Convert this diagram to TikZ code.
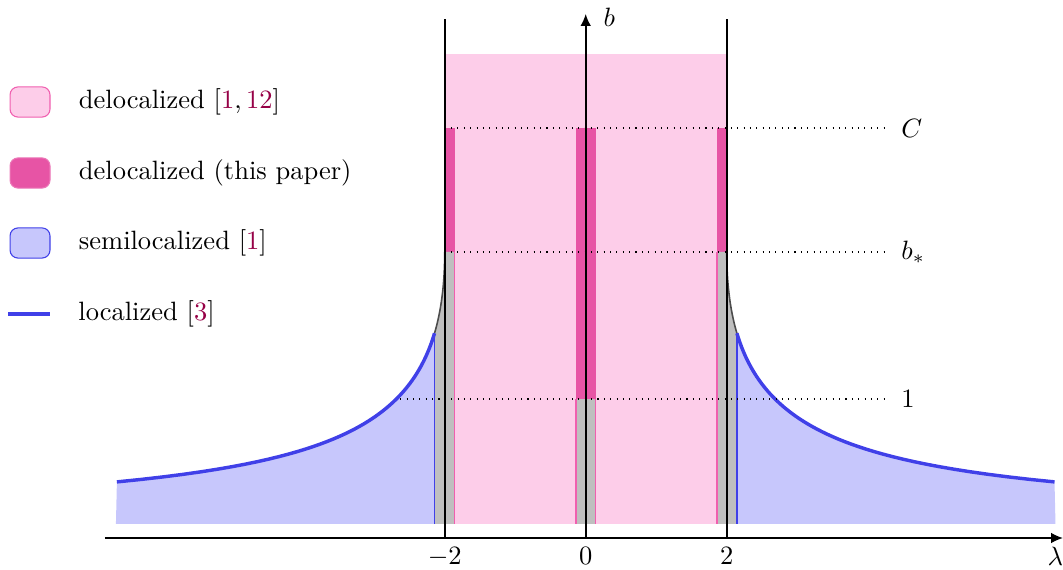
\documentclass[tikz,border=0pt]{standalone}
\usepackage{amsmath,amssymb}
\usepackage{tikz}
\usetikzlibrary{arrows.meta,positioning}
\usepackage{xcolor}
\definecolor{deloc}{RGB}{253,205,233}
\definecolor{delocnew}{RGB}{231,84,165}
\definecolor{delocedge}{RGB}{240,95,175}
\definecolor{semiloc}{RGB}{199,199,252}
\definecolor{loc}{RGB}{64,64,232}
\definecolor{citecol}{RGB}{150,0,70}
\newcommand{\refc}[1]{\textcolor{citecol}{#1}}

\begin{document}
\begin{tikzpicture}[x=0.9351cm, y=1.658cm,
  declare function={lamb(\q)=2+(2.176-\q)^2*(0.05+0.446/\q);},
  ax/.style={-{Latex[length=4.5pt,width=4pt]}, semithick},
  guide/.style={dotted},
  keybox/.style={draw, rounded corners=3pt, minimum width=0.53cm, minimum height=0.4cm, inner sep=0pt},
  keytext/.style={right=7.2pt of #1},
  pinkedge/.style={delocedge, line width=0.5pt},
  blueedge/.style={loc, line width=0.5pt},
  locline/.style={loc, line width=1.3pt},
]
\useasboundingbox (-8.308,-0.368) rectangle (6.770,4.192);

% phases
\fill[deloc] (-2,0) rectangle (2,3.76);
\fill[delocnew] (-2,2.176) rectangle (-1.86,3.168);
\fill[delocnew] (-0.14,1) rectangle (0.14,3.168);
\fill[delocnew] (1.86,2.176) rectangle (2,3.168);
\fill[black!25] (-0.14,0) rectangle (0.14,1);
\draw[pinkedge] (-0.14,0) -- (-0.14,1);
\draw[pinkedge] (0.14,0) -- (0.14,1);
\foreach \s in {-1,1} {
  \begin{scope}[xscale=\s]
    \fill[black!25] (1.86,0) -- (1.86,2.176) -- (2,2.176)
      -- plot[variable=\t, domain=2.176:1.526, samples=30] ({lamb(\t)},\t)
      -- ({lamb(1.526)},0) -- cycle;
    \fill[semiloc] ({lamb(1.526)},0)
      -- plot[variable=\t, domain=1.526:0.336, samples=60] ({lamb(\t)},\t)
      -- ({lamb(0.336)},0) -- cycle;
    \draw[pinkedge] (1.86,0) -- (1.86,2.176);
    \draw[blueedge] ({lamb(1.526)},0) -- ({lamb(1.526)},1.526);
    \draw[black!70, semithick] plot[variable=\t, domain=2.176:1.526, samples=30] ({lamb(\t)},\t);
    \draw[locline] plot[variable=\t, domain=1.526:0.336, samples=60] ({lamb(\t)},\t);
  \end{scope}
}

% levels
\draw[guide] (-2,3.168) -- (4.27,3.168) node[right=2pt] (labC) {$C$};
\draw[guide] (-2,2.176) -- (4.27,2.176) node[right=2pt] (labB) {$b_*$};
\draw[guide] (-2.63,1) -- (4.27,1) node[right=2pt] (labO) {$1$};

% axes
\draw[semithick] (-2,-0.112) -- (-2,4.04);
\draw[semithick] (2,-0.112) -- (2,4.04);
\draw[ax] (-6.82,-0.112) -- (6.77,-0.112);
\draw[ax] (0,-0.112) -- (0,4.08);
\node[anchor=west] (blab) at (0.12,4.05) {$b$};
\node[below] (lamlab) at (6.66,-0.112) {$\lambda$};
\foreach \v/\n in {-2/m,0/z,2/p}
  \node[below] (tick\n) at (\v,-0.112) {$\v$};

% legend
\node[keybox, fill=deloc, draw=delocedge] (keyA) at (-7.882,3.376) {};
\node[keytext=keyA] (txtA) {delocalized [\refc{1},\,\refc{12}]};
\node[keybox, fill=delocnew, draw=delocnew!80!white] (keyB) at (-7.882,2.808) {};
\node[keytext=keyB] (txtB) {delocalized (this paper)};
\node[keybox, fill=semiloc, draw=loc] (keyC) at (-7.882,2.248) {};
\node[keytext=keyC] (txtC) {semilocalized [\refc{1}]};
\coordinate (keyD) at (-7.598,1.68);
\draw[locline] (-8.19,1.68) -- (keyD);
\node[keytext=keyD] (txtD) {localized [\refc{3}]};
\end{tikzpicture}
\end{document}
